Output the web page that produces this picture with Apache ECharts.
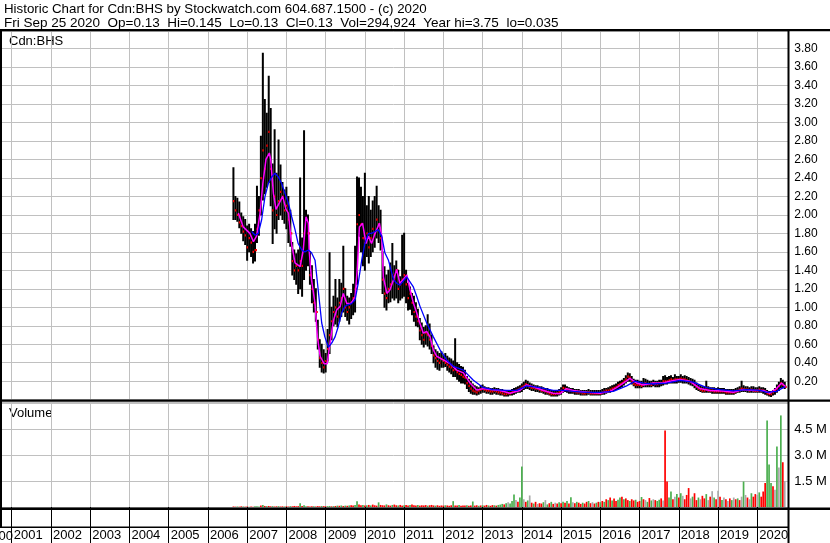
<!DOCTYPE html>
<html><head><meta charset="utf-8">
<script src="https://cdn.jsdelivr.net/npm/echarts@6/dist/echarts.min.js"></script>
<style>html,body{margin:0;padding:0;background:#fff;overflow:hidden}#c{width:830px;height:543px}</style>
</head><body><div id="c"></div>
<script>
// ---- data (decimal years) ----
const barYears = [
2006.65,2006.70,2006.75,2006.80,2006.85,2006.90,2006.95,
2007.00,2007.05,2007.10,2007.15,2007.20,2007.25,2007.30,2007.35,2007.40,2007.45,2007.50,2007.55,2007.60,2007.65,2007.70,2007.75,2007.80,2007.85,2007.90,2007.95,
2008.00,2008.05,2008.10,2008.15,2008.20,2008.25,2008.30,2008.35,2008.40,2008.45,2008.50,2008.55,2008.60,2008.65,2008.70,2008.75,2008.80,2008.85,2008.90,2008.95,
2009.00,2009.05,2009.10,2009.15,2009.20,2009.25,2009.30,2009.35,2009.40,2009.45,2009.50,2009.55,2009.60,2009.65,2009.70,2009.75,2009.80,2009.85,2009.90,2009.95,
2010.00,2010.05,2010.10,2010.15,2010.20,2010.25,2010.30,2010.35,2010.40,2010.45,2010.50,2010.55,2010.60,2010.65,2010.70,2010.75,2010.80,2010.85,2010.90,2010.95,
2011.00,2011.05,2011.10,2011.15,2011.20,2011.25,2011.30,2011.35,2011.40,2011.45,2011.50,2011.55,2011.60,2011.65,2011.70,2011.75,2011.80,2011.85,2011.90,2011.95,
2012.00,2012.05,2012.10,2012.15,2012.20,2012.25,2012.30,2012.35,2012.40,2012.45,2012.50,2012.55,2012.60,2012.65,2012.70,2012.75,2012.80,2012.85,2012.90,2012.95,
2013.00,2013.05,2013.10,2013.15,2013.20,2013.25,2013.30,2013.35,2013.40,2013.45,2013.50,2013.55,2013.60,2013.65,2013.70,2013.75,2013.80,2013.85,2013.90,2013.95,
2014.00,2014.05,2014.10,2014.15,2014.20,2014.25,2014.30,2014.35,2014.40,2014.45,2014.50,2014.55,2014.60,2014.65,2014.70,2014.75,2014.80,2014.85,2014.90,2014.95,
2015.00,2015.05,2015.10,2015.15,2015.20,2015.25,2015.30,2015.35,2015.40,2015.45,2015.50,2015.55,2015.60,2015.65,2015.70,2015.75,2015.80,2015.85,2015.90,2015.95,
2016.00,2016.05,2016.10,2016.15,2016.20,2016.25,2016.30,2016.35,2016.40,2016.45,2016.50,2016.55,2016.60,2016.65,2016.70,2016.75,2016.80,2016.85,2016.90,2016.95,
2017.00,2017.05,2017.10,2017.15,2017.20,2017.25,2017.30,2017.35,2017.40,2017.45,2017.50,2017.55,2017.60,2017.65,2017.70,2017.75,2017.80,2017.85,2017.90,2017.95,
2018.00,2018.05,2018.10,2018.15,2018.20,2018.25,2018.30,2018.35,2018.40,2018.45,2018.50,2018.55,2018.60,2018.65,2018.70,2018.75,2018.80,2018.85,2018.90,2018.95,
2019.00,2019.05,2019.10,2019.15,2019.20,2019.25,2019.30,2019.35,2019.40,2019.45,2019.50,2019.55,2019.60,2019.65,2019.70,2019.75,2019.80,2019.85,2019.90,2019.95,
2020.00,2020.05,2020.10,2020.15,2020.20,2020.25,2020.30,2020.35,2020.40,2020.45,2020.50,2020.55,2020.60,2020.65,2020.70
];
const barHigh = [
2.51,2.20,2.18,2.14,2.02,1.98,1.95,
1.88,1.90,1.85,1.82,1.90,2.31,2.20,2.85,3.75,3.25,
3.10,3.50,3.15,2.55,2.92,2.45,2.81,2.54,2.35,2.27,
2.30,2.20,2.05,1.70,1.62,1.58,1.62,2.40,1.75,2.91,
2.05,2.00,1.60,1.45,1.30,1.20,0.86,0.65,0.60,0.54,
0.50,0.76,1.59,1.00,1.12,1.30,1.10,1.30,1.26,1.66,
1.20,1.12,1.10,1.15,1.25,1.66,2.41,2.40,2.30,2.20,
2.45,2.10,2.20,2.05,2.15,2.20,2.31,2.10,2.05,1.60,
1.44,1.35,1.40,1.48,1.69,1.45,1.50,1.40,1.33,1.78,
1.80,1.40,1.26,1.22,1.15,1.12,1.05,0.98,0.88,0.83,
0.78,0.80,0.92,0.82,0.70,0.58,0.54,0.52,0.50,0.52,
0.48,0.50,0.47,0.45,0.44,0.42,0.66,0.40,0.38,0.36,
0.35,0.32,0.25,0.22,0.20,0.17,0.15,0.14,0.13,0.15,
0.16,0.14,0.13,0.13,0.12,0.12,0.13,0.12,0.12,0.11,
0.11,0.10,0.10,0.10,0.10,0.11,0.12,0.13,0.14,0.15,
0.17,0.19,0.21,0.20,0.18,0.17,0.16,0.15,0.15,0.14,
0.14,0.13,0.12,0.12,0.11,0.10,0.10,0.10,0.10,0.11,
0.13,0.16,0.16,0.14,0.13,0.12,0.12,0.11,0.11,0.11,
0.10,0.10,0.10,0.10,0.11,0.10,0.10,0.10,0.10,0.10,
0.10,0.11,0.12,0.12,0.13,0.14,0.15,0.16,0.17,0.19,
0.20,0.21,0.23,0.26,0.29,0.28,0.25,0.22,0.21,0.21,
0.20,0.20,0.23,0.22,0.21,0.20,0.20,0.21,0.20,0.20,
0.21,0.21,0.25,0.26,0.24,0.25,0.26,0.24,0.27,0.25,
0.25,0.27,0.25,0.26,0.25,0.24,0.23,0.22,0.21,0.18,
0.16,0.15,0.14,0.14,0.20,0.14,0.13,0.13,0.13,0.12,
0.13,0.12,0.12,0.12,0.11,0.11,0.11,0.11,0.11,0.12,
0.13,0.14,0.20,0.15,0.14,0.14,0.13,0.14,0.14,0.13,
0.13,0.14,0.13,0.13,0.12,0.10,0.09,0.09,0.10,0.12,
0.16,0.19,0.23,0.21,0.19
];
const barLow = [
1.95,1.95,1.93,1.86,1.80,1.72,1.68,
1.51,1.60,1.55,1.48,1.50,1.70,1.78,2.00,2.16,2.23,
2.30,2.35,2.10,1.69,1.85,1.80,1.95,2.00,1.95,1.91,
1.85,1.70,1.66,1.35,1.30,1.25,1.15,1.20,1.12,1.30,
1.40,1.45,1.25,1.05,0.95,0.85,0.55,0.35,0.30,0.29,
0.30,0.42,0.50,0.65,0.80,0.82,0.79,0.85,0.90,0.95,
0.90,0.86,0.82,0.88,0.92,0.95,1.25,1.77,1.60,1.45,
1.40,1.55,1.48,1.55,1.60,1.65,1.75,1.70,1.62,1.15,
1.00,0.97,1.05,1.06,1.10,1.08,1.10,1.05,1.08,1.10,
1.12,1.05,0.97,0.98,0.92,0.85,0.80,0.79,0.65,0.60,
0.57,0.60,0.58,0.55,0.50,0.40,0.35,0.33,0.32,0.35,
0.35,0.36,0.32,0.30,0.28,0.25,0.25,0.22,0.20,0.18,
0.18,0.17,0.12,0.09,0.07,0.06,0.06,0.05,0.06,0.07,
0.08,0.08,0.07,0.07,0.06,0.06,0.07,0.06,0.06,0.05,
0.05,0.04,0.04,0.04,0.05,0.05,0.06,0.07,0.08,0.08,
0.09,0.11,0.12,0.12,0.11,0.10,0.10,0.09,0.09,0.08,
0.08,0.07,0.06,0.06,0.05,0.04,0.04,0.04,0.04,0.05,
0.06,0.08,0.09,0.08,0.07,0.07,0.07,0.06,0.06,0.06,
0.05,0.05,0.05,0.05,0.06,0.05,0.05,0.05,0.05,0.05,
0.05,0.06,0.06,0.07,0.08,0.08,0.09,0.10,0.11,0.12,
0.13,0.14,0.16,0.18,0.20,0.20,0.17,0.15,0.13,0.13,
0.13,0.13,0.14,0.14,0.14,0.14,0.14,0.15,0.14,0.14,
0.14,0.15,0.16,0.17,0.17,0.18,0.18,0.18,0.18,0.18,
0.19,0.19,0.18,0.18,0.18,0.17,0.16,0.15,0.13,0.11,
0.10,0.09,0.08,0.08,0.08,0.08,0.08,0.07,0.07,0.07,
0.07,0.07,0.07,0.07,0.06,0.06,0.06,0.06,0.06,0.07,
0.08,0.08,0.09,0.09,0.09,0.08,0.08,0.08,0.08,0.08,
0.08,0.08,0.08,0.07,0.06,0.05,0.04,0.035,0.05,0.06,
0.08,0.10,0.13,0.13,0.12
];
const barClose = [
2.15,2.05,2.00,1.92,1.88,1.82,1.78,
1.65,1.75,1.70,1.60,1.62,1.85,2.05,2.40,2.70,2.50,
2.75,2.90,2.50,2.05,2.20,2.00,2.15,2.25,2.20,2.05,
2.10,1.95,1.80,1.50,1.40,1.45,1.40,1.50,1.45,1.80,
1.95,1.80,1.35,1.20,1.05,0.95,0.65,0.45,0.40,0.35,
0.42,0.55,0.70,0.85,0.95,1.00,0.90,1.05,1.10,1.20,
1.00,0.95,1.00,1.05,1.10,1.20,1.90,2.00,1.90,1.75,
1.70,1.80,1.65,1.75,1.85,1.80,1.95,1.90,1.75,1.30,
1.15,1.10,1.20,1.25,1.35,1.30,1.40,1.20,1.25,1.30,
1.35,1.25,1.10,1.15,1.05,0.95,0.90,0.85,0.75,0.70,
0.65,0.72,0.70,0.65,0.58,0.48,0.45,0.42,0.40,0.44,
0.42,0.40,0.38,0.36,0.35,0.32,0.33,0.30,0.28,0.27,
0.25,0.24,0.18,0.15,0.12,0.10,0.09,0.08,0.10,0.11,
0.12,0.11,0.10,0.10,0.09,0.09,0.10,0.09,0.08,0.08,
0.07,0.06,0.06,0.07,0.07,0.08,0.09,0.10,0.11,0.12,
0.14,0.15,0.17,0.16,0.14,0.13,0.13,0.12,0.12,0.11,
0.10,0.10,0.09,0.08,0.07,0.06,0.06,0.06,0.07,0.08,
0.10,0.13,0.12,0.11,0.10,0.10,0.09,0.09,0.08,0.08,
0.08,0.07,0.07,0.08,0.08,0.07,0.07,0.07,0.07,0.07,
0.07,0.08,0.09,0.10,0.10,0.11,0.12,0.13,0.14,0.16,
0.17,0.18,0.20,0.22,0.25,0.24,0.20,0.17,0.16,0.16,
0.16,0.15,0.17,0.18,0.17,0.17,0.16,0.18,0.17,0.17,
0.18,0.18,0.20,0.20,0.20,0.21,0.22,0.21,0.22,0.22,
0.22,0.23,0.22,0.22,0.21,0.20,0.19,0.18,0.16,0.14,
0.12,0.11,0.10,0.10,0.11,0.10,0.10,0.10,0.09,0.09,
0.09,0.09,0.09,0.09,0.08,0.08,0.08,0.08,0.08,0.09,
0.10,0.11,0.12,0.11,0.11,0.11,0.10,0.11,0.10,0.10,
0.10,0.11,0.10,0.10,0.09,0.07,0.06,0.06,0.08,0.10,
0.12,0.15,0.18,0.16,0.14
];
// volume in millions, same dates as bars; direction g=up r=down n=unchanged
const volM = [
0.03,0.02,0.03,0.02,0.04,0.03,0.02,
0.03,0.02,0.03,0.02,0.04,0.05,0.03,0.08,0.12,0.06,
0.05,0.06,0.04,0.05,0.03,0.04,0.05,0.03,0.04,0.03,
0.04,0.03,0.05,0.04,0.06,0.04,0.05,0.22,0.06,0.10,
0.05,0.04,0.03,0.05,0.04,0.03,0.05,0.04,0.06,0.05,
0.04,0.05,0.06,0.04,0.05,0.06,0.08,0.07,0.09,0.06,
0.08,0.07,0.09,0.10,0.08,0.12,0.34,0.15,0.10,0.12,
0.08,0.10,0.12,0.09,0.14,0.10,0.08,0.27,0.12,0.10,
0.09,0.15,0.10,0.08,0.12,0.14,0.10,0.09,0.12,0.08,
0.10,0.12,0.09,0.11,0.14,0.10,0.09,0.12,0.08,0.10,
0.09,0.11,0.08,0.10,0.12,0.09,0.08,0.10,0.07,0.09,
0.08,0.10,0.09,0.07,0.10,0.34,0.09,0.08,0.11,0.07,
0.09,0.08,0.10,0.07,0.09,0.32,0.08,0.10,0.07,0.09,
0.10,0.08,0.12,0.09,0.07,0.11,0.10,0.08,0.12,0.14,
0.18,0.15,0.22,0.28,0.20,0.35,0.72,0.40,0.30,0.55,
2.35,0.45,0.30,0.38,0.67,0.25,0.20,0.30,0.18,0.22,
0.20,0.28,0.40,0.15,0.22,0.30,0.18,0.25,0.20,0.28,
0.22,0.30,0.25,0.35,0.20,0.56,0.28,0.22,0.30,0.25,
0.18,0.25,0.20,0.30,0.35,0.22,0.28,0.20,0.25,0.30,
0.28,0.35,0.30,0.45,0.40,0.55,0.38,0.50,0.35,0.42,
0.55,0.60,0.45,0.50,0.40,0.35,0.45,0.38,0.42,0.30,
0.35,0.58,0.45,0.40,0.30,0.52,0.38,0.45,0.40,0.35,
0.42,0.50,0.38,4.45,1.48,0.55,0.90,0.45,0.60,0.75,
0.55,0.80,0.65,0.45,0.70,1.10,0.50,0.60,0.80,0.40,
0.55,0.45,0.65,0.50,0.75,0.40,0.60,0.92,0.55,0.45,
0.95,0.60,0.40,0.55,0.45,0.35,0.50,0.40,0.55,0.45,
0.50,0.40,0.60,1.48,0.70,0.55,0.45,0.80,0.60,0.75,
0.70,0.85,0.60,0.90,1.40,5.03,2.47,1.40,1.20,1.00,
3.52,2.30,5.32,2.60,1.50
];
const volDir = ("rrgrrgr"+"rgrrgggrgr"+"grrgrrgrrg"+"rrgrrrrgrg"+"grrrgrrrgr"+"rggrgrgrgr"+"grgrrggrrg"+
  "rgrgrrrgrr"+"rgrrgrrgrr"+"grrgrrrgrr"+"rrgrrrgrrr"+"rgrrrgrrgr"+"rrgrrgrrgr"+"grrgrrgrgg"+"grgngggnrg"+
  "gnrgnrgrnr"+"rgngrgrnrg"+"rgrgrgnrgr"+"rgrrgrnrgr"+"grgrgrgrrg"+"grgrrgrrgr"+"rgrngrgnrg"+"grnrrggrng"+
  "rgnrrrngrr"+"gnrrgnrngr"+"nrgnrnrgnr"+"grngnrngrr"+"ngrrrgggrn"+"gngrn").split('');

// short moving average (magenta)
const magYears = [2006.775,2006.90,2007.07,2007.16,2007.24,2007.33,2007.40,2007.48,2007.565,2007.60,2007.67,2007.735,2007.82,2007.905,2007.99,2008.05,2008.13,2008.22,2008.35,2008.43,2008.50,2008.56,2008.58,2008.64,2008.73,2008.79,2008.86,2008.96,2009.04,2009.11,2009.20,2009.28,2009.37,2009.45,2009.54,2009.64,2009.75,2009.81,2009.86,2009.94,2010.03,2010.09,2010.17,2010.26,2010.37,2010.43,2010.47,2010.56,2010.64,2010.73,2010.81,2010.89,2010.98,2011.07,2011.15,2011.24,2011.32,2011.40,2011.49,2011.575,2011.66,2011.745,2011.83,2012.00,2012.17,2012.34,2012.51,2012.68,2012.85,2013.02,2013.19,2013.44,2013.70,2013.95,2014.12,2014.29,2014.55,2014.80,2014.97,2015.14,2015.31,2015.65,2015.99,2016.245,2016.415,2016.585,2016.755,2016.925,2017.095,2017.35,2017.60,2017.775,2018.03,2018.28,2018.54,2018.79,2019.13,2019.39,2019.64,2019.90,2020.15,2020.32,2020.49,2020.62,2020.72];
const magVals = [2.02,1.87,1.80,1.71,1.77,2.02,2.34,2.60,2.67,2.60,2.23,2.06,2.13,2.20,2.06,2.02,1.69,1.48,1.44,1.62,1.98,1.91,1.62,1.30,1.04,0.68,0.47,0.39,0.39,0.61,0.86,0.97,1.01,1.15,1.04,1.04,1.11,1.44,1.87,1.91,1.69,1.77,1.69,1.80,1.91,1.77,1.33,1.15,1.19,1.30,1.41,1.26,1.30,1.35,1.19,1.04,0.94,0.83,0.72,0.74,0.68,0.54,0.47,0.43,0.39,0.32,0.29,0.18,0.105,0.12,0.11,0.10,0.07,0.10,0.16,0.14,0.10,0.07,0.065,0.12,0.10,0.08,0.07,0.09,0.13,0.18,0.23,0.18,0.16,0.18,0.18,0.20,0.22,0.20,0.12,0.10,0.095,0.08,0.11,0.10,0.10,0.07,0.12,0.18,0.14];
// long moving average (blue)
const blueYears = [2007.115,2007.20,2007.285,2007.37,2007.455,2007.54,2007.625,2007.71,2007.795,2007.88,2007.965,2008.05,2008.135,2008.22,2008.30,2008.39,2008.47,2008.56,2008.64,2008.73,2008.81,2008.90,2008.98,2009.07,2009.15,2009.24,2009.32,2009.41,2009.49,2009.58,2009.66,2009.75,2009.83,2009.92,2010.00,2010.09,2010.17,2010.26,2010.34,2010.43,2010.51,2010.60,2010.68,2010.73,2010.81,2010.895,2011.065,2011.235,2011.32,2011.405,2011.575,2011.745,2011.915,2012.085,2012.255,2012.51,2012.765,2013.02,2013.27,2013.61,2013.87,2014.12,2014.46,2014.80,2015.06,2015.31,2015.65,2015.99,2016.33,2016.67,2016.88,2017.095,2017.35,2017.69,2018.03,2018.37,2018.71,2019.05,2019.39,2019.73,2020.07,2020.24,2020.49,2020.66,2020.72];
const blueVals = [1.82,1.78,1.80,1.95,2.20,2.34,2.41,2.45,2.41,2.34,2.23,2.13,1.98,1.84,1.69,1.62,1.60,1.62,1.59,1.51,1.19,0.83,0.68,0.57,0.61,0.68,0.79,0.94,1.01,1.03,1.04,1.08,1.26,1.51,1.69,1.80,1.80,1.82,1.84,1.77,1.59,1.51,1.38,1.30,1.26,1.24,1.33,1.22,1.12,1.01,0.83,0.68,0.54,0.43,0.36,0.32,0.21,0.13,0.11,0.10,0.10,0.15,0.13,0.10,0.10,0.09,0.08,0.08,0.09,0.15,0.20,0.18,0.17,0.18,0.21,0.19,0.13,0.11,0.095,0.11,0.10,0.08,0.09,0.13,0.14];

const headerLine1 = 'Historic Chart for Cdn:BHS by Stockwatch.com 604.687.1500 - (c) 2020';
const headerLine2 = 'Fri Sep 25 2020  Op=0.13  Hi=0.145  Lo=0.13  Cl=0.13  Vol=294,924  Year hi=3.75  lo=0.035';
const symbolLabel = 'Cdn:BHS';
const volumeLabel = 'Volume';
const firstYearLabel = '2000';
const volTicks = [1.5, 3.0, 4.5];

// ---- chart ----
const FONT = '"Liberation Sans", Arial, sans-serif';
const GRIDC = '#c0c0c0';
const volColors = {g:'#4caf50', r:'#ff0000', n:'#a9a9a9'};
const chart = echarts.init(document.getElementById('c'), null, {renderer:'canvas', width:830, height:543});

const priceData = barYears.map((t,i)=>[t, barLow[i], barHigh[i], barClose[i]]);
const volData = barYears.map((t,i)=>({value:[t, volM[i]], itemStyle:{color: volColors[volDir[i]]}}));

const gl = -27.54, gr = 41.7;
const option = {
  animation:false,
  backgroundColor:'#ffffff',
  grid:[
    {left:gl, right:gr, top:31, height:368.7, outerBoundsMode:'none', containLabel:false},
    {left:gl, right:gr, top:402, height:105, outerBoundsMode:'none', containLabel:false}
  ],
  xAxis:[
    {type:'value', gridIndex:0, min:2000, max:2020.79, interval:1,
     axisLine:{show:false}, axisTick:{show:false}, axisLabel:{show:false},
     splitLine:{show:true, lineStyle:{color:GRIDC, width:1}}},
    {type:'value', gridIndex:1, min:2000, max:2020.79, interval:1,
     axisLine:{show:false},
     axisTick:{show:true, length:36, lineStyle:{color:'#000', width:1}},
     axisLabel:{show:true, hideOverlap:false, align:'left', verticalAlign:'top', margin:22, padding:[0,0,0,2],
       fontSize:13, fontFamily:FONT, color:'#000',
       formatter:v => {
         if (Math.abs(v-Math.round(v))>1e-6) return '';
         const y = Math.round(v);
         return y <= 2000 ? '' : String(y);
       }},
     splitLine:{show:true, lineStyle:{color:GRIDC, width:1}}}
  ],
  yAxis:[
    {type:'value', gridIndex:0, position:'right', min:0, max:3.99, interval:0.2,
     axisLine:{show:false}, axisTick:{show:false},
     axisLabel:{margin:6, fontSize:12, fontFamily:FONT, color:'#000', hideOverlap:false,
       formatter:v => {const k=v/0.2; return (v>0.01 && Math.abs(k-Math.round(k))<1e-6) ? v.toFixed(2) : '';}},
     splitLine:{show:true, lineStyle:{color:GRIDC, width:1}}},
    {type:'value', gridIndex:1, position:'right', min:0, max:6.1, interval:1.5,
     axisLine:{show:false}, axisTick:{show:false},
     axisLabel:{margin:6, fontSize:13, fontFamily:FONT, color:'#000', hideOverlap:false,
       formatter:v => (volTicks.some(t=>Math.abs(t-v)<1e-6) ? v.toFixed(1)+' M' : '')},
     splitLine:{show:true, lineStyle:{color:GRIDC, width:1}}}
  ],
  series:[
    {type:'custom', name:'price', xAxisIndex:0, yAxisIndex:0, clip:true,
     dimensions:['t','low','high','close'], encode:{x:0, y:[1,2,3]},
     data:priceData,
     renderItem:function(params, api){
       const t=api.value(0), lo=api.value(1), hi=api.value(2), cl=api.value(3);
       const a=api.coord([t,hi]), b=api.coord([t,lo]), c=api.coord([t,cl]);
       return {type:'group', children:[
         {type:'line', shape:{x1:a[0], y1:a[1]-0.5, x2:b[0], y2:b[1]+0.5}, style:{stroke:'#000', lineWidth:2}},
         {type:'rect', shape:{x:c[0]-0.5, y:c[1]-1, width:2.5, height:2.2}, style:{fill:'#ff0000'}}
       ]};
     }},
    {type:'line', name:'ma1', xAxisIndex:0, yAxisIndex:0, showSymbol:false, symbol:'none',
     data:magYears.map((t,i)=>[t, magVals[i]]), lineStyle:{color:'#ff00ff', width:1.5}, z:3},
    {type:'line', name:'ma2', xAxisIndex:0, yAxisIndex:0, showSymbol:false, symbol:'none',
     data:blueYears.map((t,i)=>[t, blueVals[i]]), lineStyle:{color:'#0000ff', width:1.3}, z:4},
    {type:'bar', name:'vol', xAxisIndex:1, yAxisIndex:1, barWidth:1.7, data:volData, z:2}
  ],
  graphic:[
    {type:'text', x:4, y:9, style:{text:headerLine1, fill:'#000', font:'13.3px '+FONT, verticalAlign:'middle'}},
    {type:'text', x:4, y:23, style:{text:headerLine2, fill:'#000', font:'13.5px '+FONT, verticalAlign:'middle'}},
    {type:'text', x:9, y:41, style:{text:symbolLabel, fill:'#000', font:'13px '+FONT, verticalAlign:'middle'}},
    {type:'text', x:9, y:413, style:{text:volumeLabel, fill:'#000', font:'13px '+FONT, verticalAlign:'middle'}},
    {type:'text', x:13, y:536, style:{text:firstYearLabel, fill:'#000', font:'13px '+FONT, align:'right', verticalAlign:'middle'}},
    {type:'rect', shape:{x:0, y:29, width:830, height:2.2}, style:{fill:'#000'}, z:100},
    {type:'rect', shape:{x:0, y:399.5, width:830, height:2.2}, style:{fill:'#000'}, z:100},
    {type:'rect', shape:{x:0, y:507.5, width:830, height:2.4}, style:{fill:'#000'}, z:100},
    {type:'rect', shape:{x:0, y:526.5, width:789, height:1.6}, style:{fill:'#000'}, z:100},
    {type:'rect', shape:{x:0, y:29, width:2, height:498}, style:{fill:'#000'}, z:100},
    {type:'rect', shape:{x:787.5, y:29, width:2, height:514}, style:{fill:'#000'}, z:100}
  ]
};
chart.setOption(option);
</script>
</body></html>
